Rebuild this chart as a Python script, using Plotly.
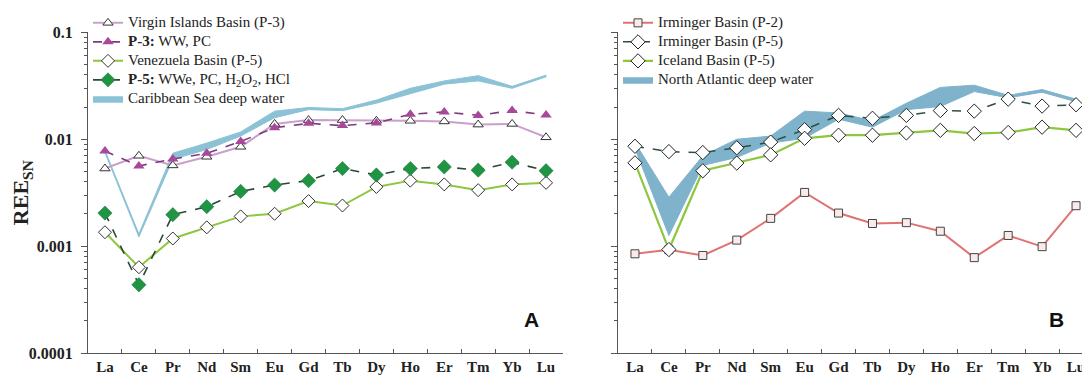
import plotly.graph_objects as go
import numpy as np

elements = ["La", "Ce", "Pr", "Nd", "Sm", "Eu", "Gd", "Tb", "Dy", "Ho", "Er", "Tm", "Yb", "Lu"]

# Panel A
virgin_p3 = [0.00532, 0.00700, 0.00569, 0.00685, 0.00849, 0.0139, 0.0151, 0.0151, 0.01486, 0.01486, 0.01466, 0.0137, 0.0139, 0.01042]
p3_ww_pc = [0.00775, 0.00562, 0.00653, 0.00739, 0.00952, 0.0128, 0.01407, 0.0134, 0.0142, 0.0171, 0.0180, 0.0167, 0.01854, 0.0168]
venez_p5 = [0.00135, 0.000636, 0.00118, 0.0015, 0.0019, 0.00201, 0.00264, 0.0024, 0.00358, 0.0041, 0.00378, 0.00334, 0.00378, 0.00391]
p5_wwe = [0.00204, 0.000436, 0.00197, 0.00234, 0.00325, 0.00373, 0.0041, 0.00532, 0.00463, 0.00532, 0.00551, 0.00514, 0.0061, 0.00507]
carib_upper = [0.0079, 0.0013, 0.0074, 0.0092, 0.0117, 0.0183, 0.0198, 0.0193, 0.0232, 0.0299, 0.0351, 0.0393, 0.0312, 0.0397]
carib_lower = [0.0075, 0.00122, 0.0065, 0.0080, 0.0107, 0.0159, 0.0189, 0.0185, 0.0217, 0.0266, 0.0327, 0.0351, 0.0299, 0.0383]

# Panel B
irminger_p2 = [0.000849, 0.000927, 0.000819, 0.00114, 0.00182, 0.00318, 0.00204, 0.00163, 0.00166, 0.00138, 0.000782, 0.00126, 0.00099, 0.00239]
irminger_p5 = [0.00859, 0.00766, 0.0075, 0.00831, 0.0094, 0.01228, 0.0167, 0.0157, 0.0167, 0.01853, 0.0183, 0.0237, 0.0204, 0.0210]
iceland_p5 = [0.00601, 0.00093, 0.00507, 0.00598, 0.00714, 0.0102, 0.0109, 0.0109, 0.01145, 0.0121, 0.0113, 0.01155, 0.01296, 0.0121]
nadw_upper = [0.0093, 0.00287, 0.0070, 0.0100, 0.0107, 0.0183, 0.0176, 0.01486, 0.0217, 0.0305, 0.0320, 0.0257, 0.0291, 0.0237]
nadw_lower = [0.0082, 0.00126, 0.00569, 0.00676, 0.0092, 0.0102, 0.0154, 0.01296, 0.0189, 0.0202, 0.0279, 0.0244, 0.0275, 0.0224]

ytick_vals = [0.0001, 0.001, 0.01, 0.1]
ytick_text = ["0.0001", "0.001", "0.01", "0.1"]

SERIF = "Liberation Serif, Times New Roman, serif"

def lg(txt):
    # legend label rendered at 15px while keeping compact legend rows
    return '<span style="font-size:15px">' + txt + '</span>'

fig = go.Figure()

def band(x, up, lo, color, name, xa, ya, legend, rank):
    return go.Scatter(
        x=list(x) + list(x)[::-1], y=list(up) + list(lo)[::-1],
        fill="toself", fillcolor=color, mode="lines",
        line=dict(color=color, width=1), name=name,
        xaxis=xa, yaxis=ya, legend=legend, legendrank=rank, hoverinfo="skip")

# ---- Panel A ----
fig.add_trace(band(elements, carib_upper, carib_lower, "#8cc2d6", lg("Caribbean Sea deep water"), "x", "y", "legend", 5))
fig.add_trace(go.Scatter(x=elements, y=virgin_p3, mode="lines+markers", name=lg("Virgin Islands Basin (P-3)"),
                         line=dict(color="#c9a0cb", width=2),
                         marker=dict(symbol="triangle-up", size=9, color="white", line=dict(color="#333333", width=1)),
                         legend="legend", legendrank=1))
fig.add_trace(go.Scatter(x=elements, y=p3_ww_pc, mode="lines+markers", name=lg("<b>P-3:</b> WW, PC"),
                         line=dict(color="#7c3c7e", width=1.6, dash="dash"),
                         marker=dict(symbol="triangle-up", size=10, color="#a8489a", line=dict(color="#a8489a", width=0)),
                         legend="legend", legendrank=2))
fig.add_trace(go.Scatter(x=elements, y=venez_p5, mode="lines+markers", name=lg("Venezuela Basin (P-5)"),
                         line=dict(color="#8dc63f", width=2),
                         marker=dict(symbol="diamond", size=10, color="white", line=dict(color="#333333", width=1)),
                         legend="legend", legendrank=3))
fig.add_trace(go.Scatter(x=elements, y=p5_wwe, mode="lines+markers",
                         name=lg("<b>P-5:</b> WWe, PC, H<sub>2</sub>O<sub>2</sub>, HCl"),
                         line=dict(color="#2b4a34", width=1.6, dash="dash"),
                         marker=dict(symbol="diamond", size=11, color="#1f9442", line=dict(color="#16703a", width=0.5)),
                         legend="legend", legendrank=4))

# ---- Panel B ----
fig.add_trace(band(elements, nadw_upper, nadw_lower, "#7fb3cc", lg("North Atlantic deep water"), "x2", "y2", "legend2", 4))
fig.add_trace(go.Scatter(x=elements, y=irminger_p2, mode="lines+markers", name=lg("Irminger Basin (P-2)"),
                         line=dict(color="#e07272", width=2),
                         marker=dict(symbol="square", size=8, color="#fbeaea", line=dict(color="#444444", width=1)),
                         xaxis="x2", yaxis="y2", legend="legend2", legendrank=1))
fig.add_trace(go.Scatter(x=elements, y=irminger_p5, mode="lines+markers", name=lg("Irminger Basin (P-5)"),
                         line=dict(color="#2f4f3f", width=1.5, dash="dash"),
                         marker=dict(symbol="diamond", size=11, color="white", line=dict(color="#222222", width=1)),
                         xaxis="x2", yaxis="y2", legend="legend2", legendrank=2))
fig.add_trace(go.Scatter(x=elements, y=iceland_p5, mode="lines+markers", name=lg("Iceland Basin (P-5)"),
                         line=dict(color="#8dc63f", width=2.2),
                         marker=dict(symbol="diamond", size=11, color="white", line=dict(color="#222222", width=1)),
                         xaxis="x2", yaxis="y2", legend="legend2", legendrank=3))

minor_vals = [m * 10.0 ** e for e in range(-4, -1 + 1) for m in range(2, 10) if m * 10.0 ** e < 0.1]

xaxis_common = dict(type="category", categoryorder="array", categoryarray=elements,
                    range=[-0.5, 13.5], tickson="boundaries", ticks="inside", ticklen=4,
                    tickcolor="#555555", showline=True, linecolor="#555555", linewidth=1.2,
                    showgrid=False, zeroline=False,
                    tickfont=dict(family=SERIF, size=15, color="#222222", weight="bold"))
yaxis_common = dict(type="log", range=[-4, -1], tickvals=ytick_vals, ticks="outside", ticklen=6,
                    tickcolor="#555555", showline=True, linecolor="#555555", linewidth=1.2,
                    showgrid=False, zeroline=False, ticklabelstandoff=5,
                    minor=dict(tickvals=minor_vals, ticks="outside", ticklen=3, tickcolor="#555555"),
                    tickfont=dict(family=SERIF, size=16, color="#222222", weight="bold"))

legend_common = dict(xanchor="left", yanchor="top", bgcolor="rgba(0,0,0,0)",
                     font=dict(family=SERIF, size=10, color="#222222"), tracegroupgap=0, itemwidth=30)

fig.update_layout(
    width=1090, height=379,
    margin=dict(l=0, r=0, t=0, b=0),
    paper_bgcolor="white", plot_bgcolor="white",
    xaxis=dict(domain=[80 / 1090, 555 / 1090], anchor="y", **xaxis_common),
    yaxis=dict(domain=[1 - 353 / 379, 1 - 17 / 379], anchor="x", ticktext=ytick_text,
               title=dict(text="REE<sub>SN</sub>", font=dict(family=SERIF, size=22, color="#222222", weight="bold"),
                          standoff=4),
               **yaxis_common),
    xaxis2=dict(domain=[610 / 1090, 1085 / 1090], anchor="y2", **xaxis_common),
    yaxis2=dict(domain=[1 - 353 / 379, 1 - 17 / 379], anchor="x2", showticklabels=False, **yaxis_common),
    legend=dict(x=80 / 1090, y=1 + 8 / 379, **legend_common),
    legend2=dict(x=610 / 1090, y=1 + 8 / 379, **legend_common),
    showlegend=True,
    annotations=[
        dict(text="<b>A</b>", x=523 / 1090, y=1 - 318 / 379, xref="paper", yref="paper", showarrow=False,
             xanchor="center", yanchor="middle",
             font=dict(family="Liberation Sans, Arial, sans-serif", size=21, color="#111111")),
        dict(text="<b>B</b>", x=1048 / 1090, y=1 - 318 / 379, xref="paper", yref="paper", showarrow=False,
             xanchor="center", yanchor="middle",
             font=dict(family="Liberation Sans, Arial, sans-serif", size=21, color="#111111")),
    ],
)

fig.write_html("out.html")
